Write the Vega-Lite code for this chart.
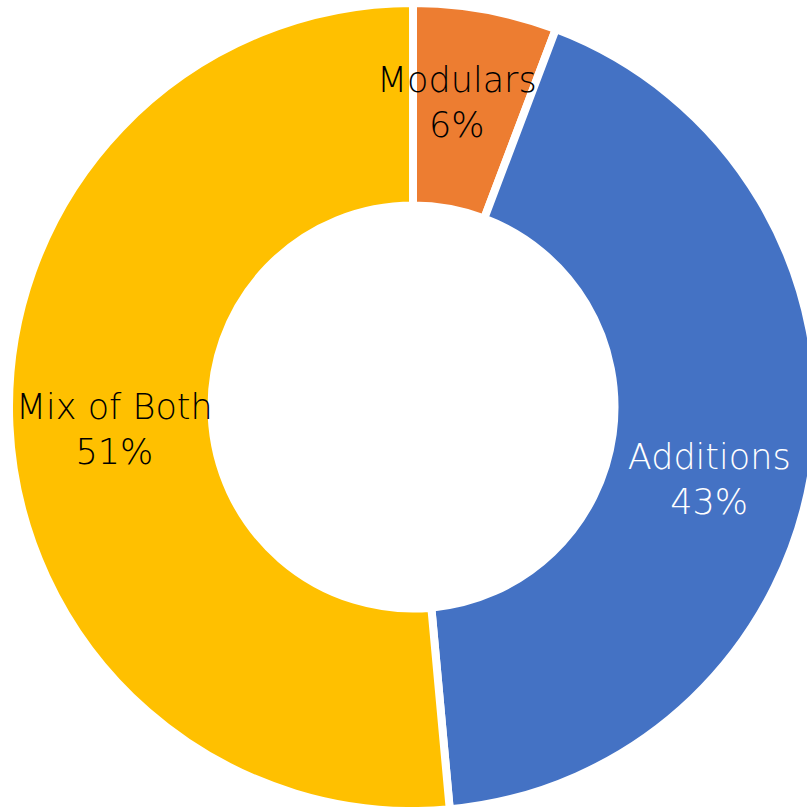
{
  "$schema": "https://vega.github.io/schema/vega-lite/v6.json",
  "width": 788,
  "height": 800,
  "autosize": {"type": "none"},
  "padding": {"left": 19, "top": 7, "right": 0, "bottom": 0},
  "background": "white",
  "data": {
    "values": [
      {"category": "Modulars", "value": 5.75, "label": "Modulars\n6%"},
      {"category": "Additions", "value": 42.8, "label": "Additions\n43%"},
      {"category": "Mix of Both", "value": 51.45, "label": "Mix of Both\n51%"}
    ]
  },
  "encoding": {
    "theta": {"field": "value", "type": "quantitative", "stack": true},
    "order": {"field": "value", "type": "quantitative", "sort": "ascending"}
  },
  "layer": [
    {
      "mark": {"type": "arc", "outerRadius": 404, "innerRadius": 201.5, "stroke": "white", "strokeWidth": 8},
      "encoding": {
        "color": {
          "field": "category",
          "type": "nominal",
          "scale": {"domain": ["Modulars", "Additions", "Mix of Both"], "range": ["#ED7D31", "#4472C4", "#FFC000"]},
          "legend": null
        }
      }
    },
    {
      "mark": {"type": "text", "radius": 305, "dx": -11, "dy": -26, "font": "DejaVu Sans", "fontWeight": 200, "fontSize": 35, "lineHeight": 45, "lineBreak": "\n", "align": "center", "baseline": "middle", "color": "black"},
      "encoding": {"text": {"condition": {"test": "datum.category === 'Modulars'", "field": "label"}, "value": ""}}
    },
    {
      "mark": {"type": "text", "radius": 305, "dx": -6, "dy": 10, "font": "DejaVu Sans", "fontWeight": 200, "fontSize": 35, "lineHeight": 45, "lineBreak": "\n", "align": "center", "baseline": "middle", "color": "white"},
      "encoding": {"text": {"condition": {"test": "datum.category === 'Additions'", "field": "label"}, "value": ""}}
    },
    {
      "mark": {"type": "text", "radius": 305, "dx": 6, "dy": -13, "font": "DejaVu Sans", "fontWeight": 200, "fontSize": 35, "lineHeight": 45, "lineBreak": "\n", "align": "center", "baseline": "middle", "color": "black"},
      "encoding": {"text": {"condition": {"test": "datum.category === 'Mix of Both'", "field": "label"}, "value": ""}}
    }
  ],
  "config": {"view": {"stroke": null}}
}
